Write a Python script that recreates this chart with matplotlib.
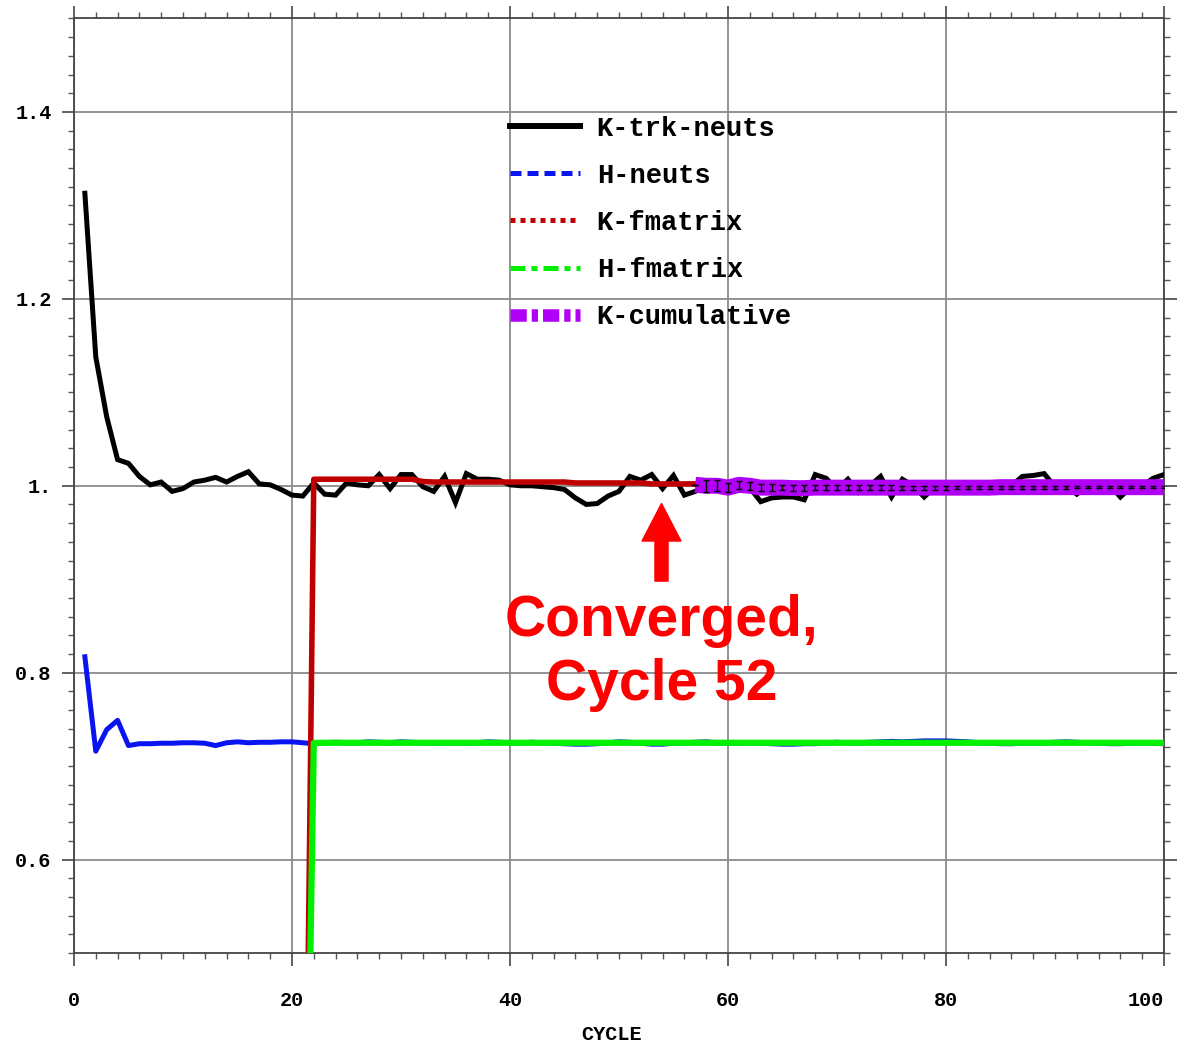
"""K-eff convergence plot: cycle-wise estimators with cumulative average."""
import numpy as np
import matplotlib; matplotlib.use("Agg")
import matplotlib.pyplot as plt
from matplotlib.lines import Line2D
from matplotlib.ticker import MultipleLocator, FixedLocator, FixedFormatter

MONO = "Liberation Mono"

# ---- data ----
cycles = list(range(1, 101))
k_trk_neuts = [1.313, 1.138, 1.074, 1.028, 1.024, 1.010, 1.001, 1.004, 0.994, 0.997,
               1.004, 1.006, 1.009, 1.004, 1.010, 1.015, 1.002, 1.001, 0.996, 0.990,
               0.989, 1.003, 0.991, 0.990, 1.003, 1.001, 1.000, 1.012, 0.997, 1.012,
               1.012, 0.999, 0.994, 1.010, 0.982, 1.013, 1.007, 1.007, 1.006, 1.001,
               1.000, 1.000, 0.999, 0.998, 0.996, 0.987, 0.980, 0.981, 0.989, 0.994,
               1.010, 1.006, 1.012, 0.997, 1.011, 0.990, 0.994, 1.000, 1.004, 0.999,
               1.002, 0.998, 0.983, 0.987, 0.988, 0.988, 0.985, 1.012, 1.008, 0.996,
               1.007, 0.993, 1.000, 1.010, 0.988, 1.007, 1.000, 0.988, 0.999, 1.001,
               1.000, 0.999, 1.000, 1.001, 0.999, 1.000, 1.010, 1.011, 1.013, 0.999,
               1.000, 0.991, 1.000, 0.999, 1.001, 0.988, 0.999, 1.000, 1.008, 1.012]
h_neuts = [0.817, 0.716, 0.739, 0.749, 0.722, 0.724, 0.724, 0.7245, 0.7245, 0.725,
           0.725, 0.7245, 0.722, 0.725, 0.726, 0.725, 0.7255, 0.7255, 0.726, 0.726,
           0.725, 0.724, 0.725, 0.7255, 0.725, 0.725, 0.726, 0.7255, 0.725, 0.726,
           0.7255, 0.725, 0.7245, 0.725, 0.725, 0.7245, 0.725, 0.726, 0.7255, 0.725,
           0.725, 0.7255, 0.725, 0.7245, 0.724, 0.7235, 0.7235, 0.724, 0.725, 0.726,
           0.7255, 0.7245, 0.7235, 0.7235, 0.7245, 0.725, 0.7255, 0.726, 0.725, 0.7245,
           0.7245, 0.725, 0.7245, 0.724, 0.7235, 0.7235, 0.724, 0.724, 0.725, 0.7255,
           0.725, 0.725, 0.7255, 0.726, 0.7265, 0.726, 0.7265, 0.727, 0.727, 0.727,
           0.7265, 0.726, 0.725, 0.7245, 0.724, 0.724, 0.7245, 0.7245, 0.725, 0.7255,
           0.726, 0.7255, 0.725, 0.7245, 0.724, 0.724, 0.7245, 0.725, 0.7245, 0.724]

kf_cycles = list(range(21, 58))
k_fmatrix = [0.0, 1.007, 1.007, 1.007, 1.007, 1.007, 1.007, 1.007, 1.007, 1.007,
             1.007, 1.0045, 1.004, 1.004, 1.004, 1.004, 1.004, 1.004, 1.004, 1.004,
             1.004, 1.004, 1.004, 1.004, 1.004, 1.003, 1.003, 1.003, 1.003, 1.003,
             1.003, 1.003, 1.002, 1.002, 1.002, 1.002, 1.002]

hf_cycles = list(range(21, 101))
h_fmatrix = [0.0, 0.7248, 0.725, 0.725, 0.725, 0.725, 0.725, 0.725, 0.725, 0.725,
             0.725, 0.725, 0.725, 0.725, 0.725, 0.725, 0.725, 0.725, 0.725, 0.725,
             0.725, 0.725, 0.725, 0.725, 0.725, 0.725, 0.725, 0.725, 0.725, 0.725,
             0.725, 0.725, 0.725, 0.725, 0.725, 0.725, 0.725, 0.725, 0.725, 0.725,
             0.725, 0.725, 0.725, 0.725, 0.725, 0.725, 0.725, 0.725, 0.725, 0.725,
             0.725, 0.725, 0.725, 0.725, 0.725, 0.725, 0.725, 0.725, 0.725, 0.725,
             0.725, 0.725, 0.725, 0.725, 0.725, 0.725, 0.725, 0.725, 0.725, 0.725,
             0.725, 0.725, 0.725, 0.725, 0.725, 0.725, 0.725, 0.725, 0.725, 0.725]

kc_cycles = list(range(57, 101))
k_cumulative = [1.001, 1.000, 1.000, 0.998, 1.001, 1.000, 0.998, 0.998, 0.998, 0.9975,
                0.9975, 0.998, 0.998, 0.998, 0.998, 0.998, 0.998, 0.998, 0.998, 0.998,
                0.998, 0.998, 0.998, 0.998, 0.998, 0.998, 0.998, 0.998, 0.9985, 0.9985,
                0.9985, 0.9985, 0.9985, 0.9985, 0.9985, 0.9985, 0.9985, 0.9985, 0.9985, 0.9985,
                0.9985, 0.9985, 0.9985, 0.9985]
k_cum_err = [0.0, 0.0065, 0.006, 0.005, 0.0045, 0.004, 0.0035, 0.0035, 0.003, 0.003,
             0.003, 0.003, 0.003, 0.0028, 0.0027, 0.0026, 0.0025, 0.0024, 0.0023, 0.0022,
             0.0022, 0.0021, 0.002, 0.002, 0.0019, 0.0019, 0.0018, 0.0018, 0.0017, 0.0017,
             0.0016, 0.0016, 0.0015, 0.0015, 0.0015, 0.0014, 0.0014, 0.0014, 0.0013, 0.0013,
             0.0013, 0.0012, 0.0012, 0.0012]

y_ticks = [0.6, 0.8, 1.0, 1.2, 1.4]
y_ticklabels = ["0.6", "0.8", "1.", "1.2", "1.4"]
x_ticks = [0, 20, 40, 60, 80, 100]

fig = plt.figure(figsize=(11.93, 10.45), dpi=100)
ax = fig.add_axes([0.062, 0.088, 0.9137, 0.8943])

ax.plot(cycles, k_trk_neuts, color="black", lw=3.6, solid_joinstyle="miter", zorder=3)
ax.plot(cycles, h_neuts, color="#0a14f0", lw=3.6, zorder=3)
ax.plot(kf_cycles, k_fmatrix, color="#c00000", lw=4.0, zorder=4)
ax.plot(hf_cycles, h_fmatrix, color="#00f000", lw=4.5, zorder=4)
ax.plot(kc_cycles, k_cumulative, color="#b000f5", lw=11.5, solid_capstyle="butt", zorder=5)
ax.errorbar(kc_cycles, k_cumulative, yerr=k_cum_err, fmt="none", ecolor="black",
            elinewidth=1.0, capsize=2.5, capthick=1.0, zorder=6)

ax.set_xlim(0, 100); ax.set_ylim(0.5, 1.5)
ax.xaxis.set_major_locator(FixedLocator(x_ticks))
ax.xaxis.set_minor_locator(MultipleLocator(2))
ax.yaxis.set_major_locator(FixedLocator(y_ticks))
ax.yaxis.set_major_formatter(FixedFormatter(y_ticklabels))
ax.yaxis.set_minor_locator(MultipleLocator(0.02))
ax.grid(True, which="major", color="#8a8a8a", lw=1.3)
ax.set_axisbelow(True)
for s in ax.spines.values():
    s.set_color("#444444"); s.set_linewidth(1.3)
ax.tick_params(which="both", direction="out", top=True, right=True, colors="#555555")
ax.tick_params(which="major", length=9, width=1.3)
ax.tick_params(which="minor", length=4.5, width=1.0)
ax.tick_params(axis="y", which="major", pad=7, labelcolor="black")
ax.tick_params(axis="x", which="major", pad=18, labelcolor="black")
for lab in ax.get_xticklabels() + ax.get_yticklabels():
    lab.set_fontfamily(MONO); lab.set_fontweight("bold"); lab.set_fontsize(14.5)
ax.get_xticklabels()[-1].set_horizontalalignment("right")

ax.set_xlabel("CYCLE", fontfamily=MONO, fontweight="bold", fontsize=14.5)
ax.xaxis.set_label_coords(0.4936, -0.077)

handles = [Line2D([], [], color="black", lw=4.3),
           Line2D([], [], color="#0a14f0", lw=3.6, dashes=(2.2, 1.2)),
           Line2D([], [], color="#c00000", lw=3.6, dashes=(1, 1)),
           Line2D([], [], color="#00f000", lw=3.6, dashes=(3, 1.2, 1.2, 1.2)),
           Line2D([], [], color="#b000f5", lw=9, dashes=(1.3, 0.4, 0.5, 0.4))]
labels = ["K-trk-neuts", "H-neuts", "K-fmatrix", "H-fmatrix", "K-cumulative"]
ax.legend(handles, labels, loc="upper left", bbox_to_anchor=(0.4, 0.896),
          frameon=False, borderpad=0, borderaxespad=0, handlelength=2.6,
          handletextpad=0.6, labelspacing=0.78,
          prop=dict(family=MONO, weight="bold", size=19.5))

ax.annotate("", xy=(53.9, 0.981), xytext=(53.9, 0.898),
            arrowprops=dict(arrowstyle="simple,head_length=27,head_width=28,tail_width=9.4",
                            mutation_scale=1, color="#ff0000", shrinkA=0, shrinkB=0))
ax.text(53.9, 0.884, "Converged,\nCycle 52", ha="center", va="top", color="#ff0000",
        fontfamily="Liberation Sans", fontweight="bold", fontsize=41, linespacing=1.24)

fig.savefig("out.png", dpi=100)
